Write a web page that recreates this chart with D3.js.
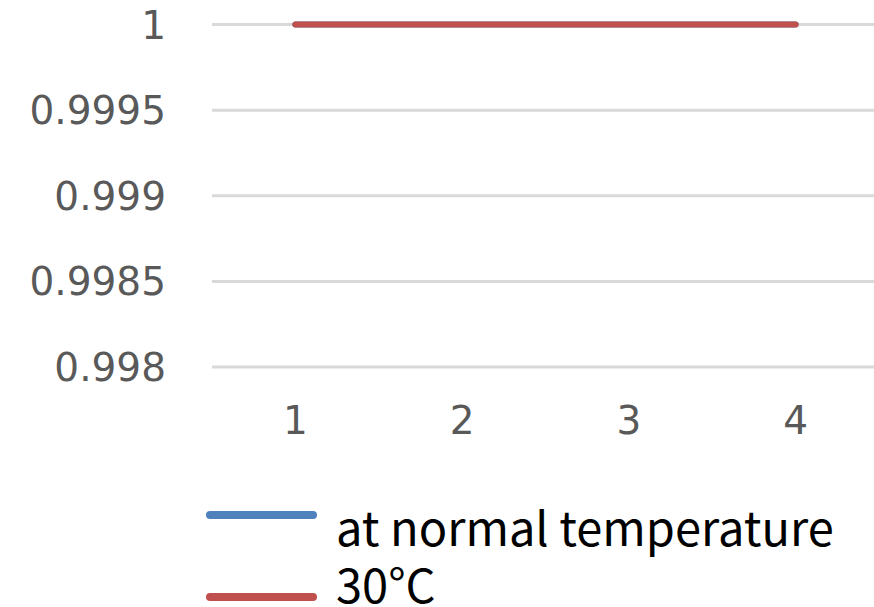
<!DOCTYPE html>
<html lang="en">
<head>
    <meta charset="UTF-8">
    <title>Line chart</title>
    <script src="https://d3js.org/d3.v7.min.js"></script>
    <style>
        body {
            margin: 0;
            background-color: white;
        }
        .tick-label {
            font-family: "DejaVu Sans", sans-serif;
            font-size: 39px;
            fill: #595959;
        }
        .legend-label {
            font-family: "Noto Sans CJK JP", "Noto Sans", sans-serif;
            font-size: 47px;
            fill: #000;
        }
    </style>
</head>
<body>
    <div id="chart"></div>
    <script>
        const categories = ["1", "2", "3", "4"];
        const seriesNames = ["at normal temperature", "30°C"];
        const normalValues = [1, 1, 1, 1];
        const hotValues = [1, 1, 1, 1];
        const yTicks = [0.998, 0.9985, 0.999, 0.9995, 1];
        const yTickLabels = ["0.998", "0.9985", "0.999", "0.9995", "1"];
        const colors = ["#4f81bd", "#c0504d"];

        const width = 874, height = 607;

        const svg = d3.select("#chart")
            .append("svg")
            .attr("width", width)
            .attr("height", height);

        const x = d3.scaleBand()
            .domain(categories)
            .range([212, 879]);

        const y = d3.scaleLinear()
            .domain([0.998, 1])
            .range([367, 24.5]);

        // gridlines
        svg.append("g")
            .selectAll("line")
            .data(yTicks)
            .enter().append("line")
            .attr("x1", 212)
            .attr("x2", width)
            .attr("y1", d => y(d))
            .attr("y2", d => y(d))
            .attr("stroke", "#d9d9d9")
            .attr("stroke-width", 3);

        // y labels
        svg.append("g")
            .selectAll("text")
            .data(yTicks)
            .enter().append("text")
            .attr("class", "tick-label")
            .attr("x", 166)
            .attr("y", d => y(d))
            .attr("dy", "0.36em")
            .attr("text-anchor", "end")
            .text((d, i) => yTickLabels[i]);

        // x labels
        svg.append("g")
            .selectAll("text")
            .data(categories)
            .enter().append("text")
            .attr("class", "tick-label")
            .attr("x", d => x(d) + x.bandwidth() / 2)
            .attr("y", 434)
            .attr("text-anchor", "middle")
            .text(d => d);

        const line = d3.line()
            .x((d, i) => x(categories[i]) + x.bandwidth() / 2)
            .y(d => y(d));

        [normalValues, hotValues].forEach((vals, i) => {
            svg.append("path")
                .datum(vals)
                .attr("fill", "none")
                .attr("stroke", colors[i])
                .attr("stroke-width", 6)
                .attr("stroke-linecap", "round")
                .attr("d", line);
        });

        // legend
        const legendY = [515, 597];
        const textY = [546, 603];
        seriesNames.forEach((name, i) => {
            svg.append("line")
                .attr("x1", 210)
                .attr("x2", 313)
                .attr("y1", legendY[i])
                .attr("y2", legendY[i])
                .attr("stroke", colors[i])
                .attr("stroke-width", 8)
                .attr("stroke-linecap", "round");
            svg.append("text")
                .attr("class", "legend-label")
                .attr("x", 336)
                .attr("y", textY[i])
                .text(name);
        });
    </script>
</body>
</html>
